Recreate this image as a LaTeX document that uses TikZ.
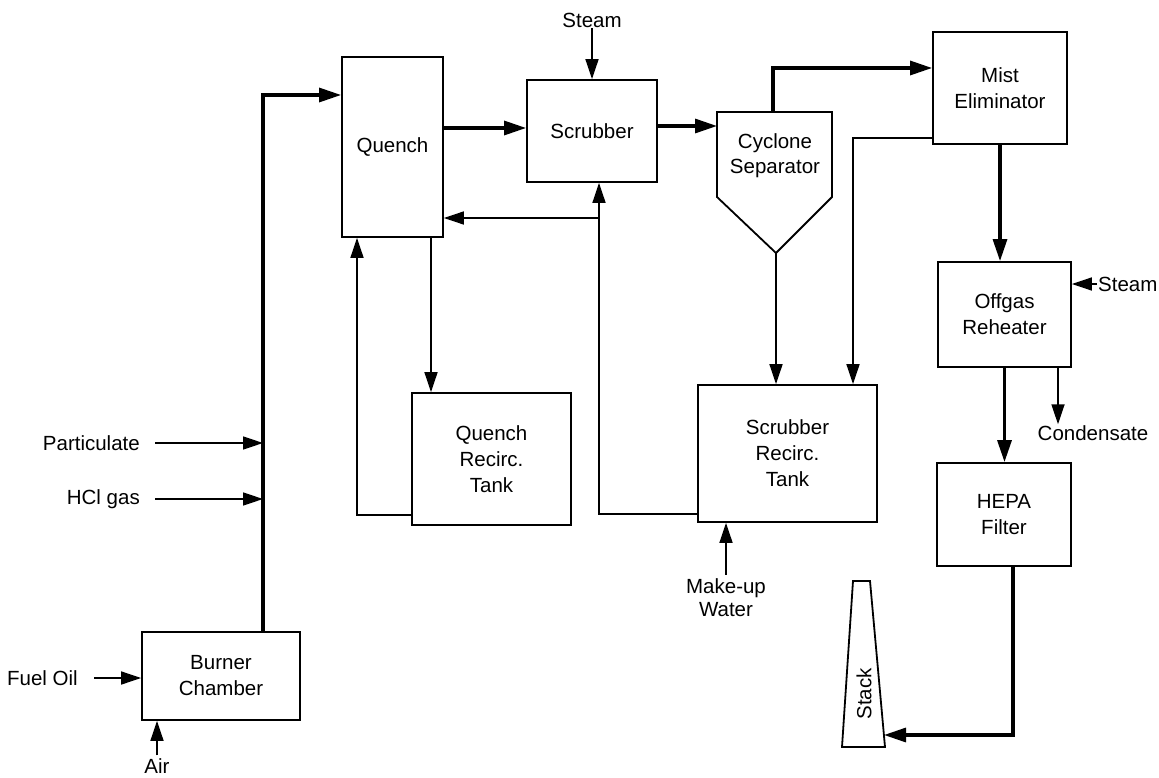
\documentclass[tikz,border=0pt]{standalone}
\usepackage{fontspec}
\setmainfont{Liberation Sans}
\usetikzlibrary{arrows.meta}
\begin{document}
\begin{tikzpicture}[x=1pt,y=-1pt,
  box/.style={draw, line width=1.8pt, align=center, inner sep=0pt,
    font=\fontsize{20.5}{26}\selectfont},
  lbl/.style={font=\fontsize{20.5}{23}\selectfont, inner sep=1pt, align=center},
  gas/.style={line width=3.2pt, -{Triangle[length=22pt,width=14pt]}},
  liq/.style={line width=1.7pt, -{Triangle[length=20pt,width=13pt]}},
  outline/.style={line width=1.8pt, line join=miter},
]
\useasboundingbox (0,0) rectangle (1159,778);

% boxes
\node[box, minimum width=158pt, minimum height=88pt] (burner) at (221,676) {Burner\\Chamber};
\node[box, minimum width=101pt, minimum height=180pt] (quench) at (392.5,147) {Quench};
\node[box, minimum width=130pt, minimum height=102pt] (scrub) at (592,131) {Scrubber};
\node[box, minimum width=134pt, minimum height=112pt] (mist) at (1000,88) {Mist\\Eliminator};
\node[box, minimum width=133pt, minimum height=105pt] (off) at (1004.5,314.5) {Offgas\\Reheater};
\node[box, minimum width=134pt, minimum height=103pt] (hepa) at (1004,514.5) {HEPA\\Filter};
\node[box, minimum width=159pt, minimum height=132pt] (qrt) at (491.5,459) {Quench\\Recirc.\\Tank};
\node[box, minimum width=179pt, minimum height=137pt] (srt) at (787.5,453.5) {Scrubber\\Recirc.\\Tank};

% cyclone separator
\coordinate (cycTL) at (717,112);
\coordinate (cycTR) at (832,112);
\coordinate (cycBR) at (832,197);
\coordinate (cycB) at (776,253);
\coordinate (cycBL) at (717,197);
\draw[outline] (cycTL) -- (cycTR) -- (cycBR) -- (cycB) -- (cycBL) -- cycle;
\node[lbl, font=\fontsize{20.5}{25}\selectfont] (cyc) at (775,156) {Cyclone\\Separator};

% stack
\coordinate (stTL) at (853,581);
\coordinate (stTR) at (870,581);
\coordinate (stBR) at (885,747);
\coordinate (stBL) at (842,747);
\draw[outline] (stTL) -- (stTR) -- (stBR) -- (stBL) -- cycle;
\node[lbl, rotate=90] (stk) at (864,694) {Stack};

% labels
\node[lbl, anchor=east] (part) at (141,443) {Particulate};
\node[lbl, anchor=east] (hcl) at (141,499) {HCl gas};
\node[lbl, anchor=east] (fuel) at (79,678) {Fuel Oil};
\node[lbl] (air) at (157,766) {Air};
\node[lbl] (steam1) at (592,20) {Steam};
\node[lbl, anchor=west] (steam2) at (1097,284) {Steam};
\node[lbl] (cond) at (1093,433) {Condensate};
\node[lbl] (mu) at (726,598) {Make-up\\Water};

% gas path
\coordinate (j) at (263,95);
\draw[gas] (burner.north -| j) -- (j) -- (quench.west |- j);
\coordinate (qs) at (0,128);
\draw[gas] (quench.east |- qs) -- (scrub.west |- qs);
\coordinate (sc) at (0,126);
\draw[gas] (scrub.east |- sc) -- (cycTL |- sc);
\coordinate (co) at (773,68);
\draw[gas] (co |- cycTL) -- (co) -- (mist.west |- co);
\draw[gas] (mist.south) -- (mist.south |- off.north);
\draw[gas] (off.south) -- (off.south |- hepa.north);
\coordinate (hs) at (1013,735);
\coordinate (sk) at (884,735);
\draw[gas] (hepa.south -| hs) -- (hs) -- (sk);

% feeds
\draw[liq] ([xshift=14pt]part.east) -- (part.east -| j);
\draw[liq] ([xshift=14pt]hcl.east) -- (hcl.east -| j);
\draw[liq] ([xshift=15pt]fuel.east) -- (burner.west |- fuel.east);
\draw[liq] ([yshift=2pt]air.north) -- (air.north |- burner.south);
\draw[liq] (steam1.south) -- (steam1.south |- scrub.north);
\draw[liq] (steam2.west) -- (off.east |- steam2.west);
\draw[liq] ([yshift=3pt]mu.north) -- (mu.north |- srt.south);

% liquid circuits
\coordinate (qd) at (431,0);
\draw[liq] (quench.south -| qd) -- (qd |- qrt.north);
\coordinate (qr) at (357,515);
\draw[liq] (qrt.west |- qr) -- (qr) -- (qr |- quench.south);
\coordinate (sr) at (599,514);
\draw[liq] (srt.west |- sr) -- (sr) -- (sr |- scrub.south);
\coordinate (sb) at (599,218);
\draw[liq] (sb) -- (quench.east |- sb);
\draw[liq] (cycB) -- (cycB |- srt.north);
\coordinate (ml) at (853,138);
\draw[liq] (mist.west |- ml) -- (ml) -- (ml |- srt.north);
\coordinate (cd) at (1058,0);
\draw[liq] (off.south -| cd) -- (cd |- cond.north);
\end{tikzpicture}
\end{document}
